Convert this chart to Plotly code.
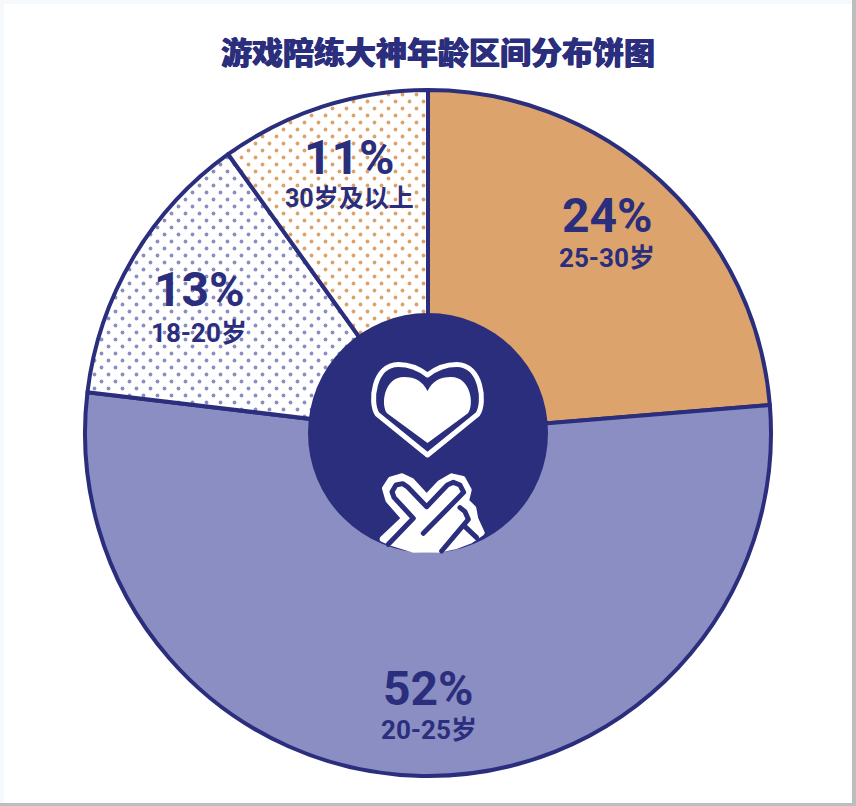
import plotly.graph_objects as go

W, H = 856, 806
NAVY = "#2A2E7C"
ORANGE = "#DDA36C"
PERI = "#8B8EC3"

TITLE = "游戏陪练大神年龄区间分布饼图"
categories = ["25-30岁", "20-25岁", "18-20岁", "30岁及以上"]
printed_pct = ["24%", "52%", "13%", "11%"]
# Arc shares as drawn in the picture (the printed percentages are rounder)
drawn_share = [23.7, 53.2, 13.2, 9.9]

slice_fill = [ORANGE, PERI, "white", "white"]
slice_dots = [ORANGE, PERI, PERI, ORANGE]
pattern_shape = ["", "", ".", "."]

CX, CY, R = 428, 433, 343
CJK = "Noto Sans CJK SC"


def px(x, y):
    return x / W, 1 - y / H


def path(points, close=True):
    out = []
    for i, (cmd, *c) in enumerate(points):
        coords = []
        for j in range(0, len(c), 2):
            a, b = px(c[j], c[j + 1])
            coords.append(f"{a:.5f},{b:.5f}")
        out.append(cmd + " ".join(coords))
    return " ".join(out) + (" Z" if close else "")


def rect(x0, y0, x1, y1, color, layer="below"):
    a0, b0 = px(x0, y0)
    a1, b1 = px(x1, y1)
    return dict(type="rect", xref="paper", yref="paper", x0=a0, y0=b1, x1=a1, y1=b0,
                fillcolor=color, line_width=0, layer=layer)


def z(zx, zy):
    return 370 + zx / 3, 465 + zy / 3


def zpoly(pts, close=True):
    cmds = []
    for i, (a, b) in enumerate(pts):
        x, y = z(a, b)
        cmds.append(("M" if i == 0 else "L", x, y))
    return path(cmds, close)


def heart(xl, xr, ytop, ynotch, ybot):
    xm = (xl + xr) / 2
    w = xr - xl
    h = ybot - ytop
    X = lambda t: xl + w * t
    Xr = lambda t: xr - w * t
    Y = lambda t: ytop + h * t
    return path([
        ("M", xm, ybot),
        ("L", X(0.035), Y(0.55)),
        ("C", X(-0.04), Y(0.42), X(0.0), Y(0.0), X(0.23), Y(0.0)),
        ("C", X(0.36), Y(0.0), X(0.44), Y(0.06), xm, ynotch),
        ("C", Xr(0.44), Y(0.06), Xr(0.36), Y(0.0), Xr(0.23), Y(0.0)),
        ("C", Xr(0.0), Y(0.0), Xr(-0.04), Y(0.42), Xr(0.035), Y(0.55)),
    ])


shapes = [
    rect(4, 4, 852, 803, "white"),
    rect(852, 0, 856, 806, "#BDBDBD"),
    rect(0, 803, 856, 806, "#BDBDBD"),
]
a0, b0 = px(CX - 120, CY - 120)
a1, b1 = px(CX + 120, CY + 120)
shapes.append(dict(type="circle", xref="paper", yref="paper", x0=a0, y0=b1, x1=a1, y1=b0,
                   fillcolor=NAVY, line_width=0))
shapes.append(dict(type="path", xref="paper", yref="paper",
                   path=heart(373.5, 481.5, 364.5, 375, 455), fillcolor="rgba(0,0,0,0)",
                   line=dict(color="white", width=5)))
shapes.append(dict(type="path", xref="paper", yref="paper",
                   path=heart(384, 471, 377, 391, 443), fillcolor="white", line_width=0))
# hand silhouette (white, thick round stroke softens the corners) and its navy finger lines
shapes.append(dict(type="path", xref="paper", yref="paper",
                   path=zpoly([(38, 222), (103, 160), (55, 105), (45, 70), (62, 44), (95, 34), (125, 48),
                               (170, 97), (210, 54), (245, 34), (278, 42), (296, 75), (288, 108), (310, 130),
                               (316, 162), (335, 203), (300, 227), (255, 244), (210, 254), (130, 254), (65, 234)]),
                   fillcolor="white", line=dict(color="white", width=6)))
for pts in [
    [(55, 238), (130, 160), (72, 97), (66, 80), (78, 60), (98, 56), (113, 66), (170, 125), (232, 60), (250, 52),
     (270, 60), (281, 82), (160, 205)],
    [(215, 258), (295, 163), (285, 140), (270, 128)],
    [(285, 185), (320, 218)],
]:
    shapes.append(dict(type="path", xref="paper", yref="paper", path=zpoly(pts, close=False),
                       fillcolor="rgba(0,0,0,0)", line=dict(color=NAVY, width=5)))

fig = go.Figure(go.Pie(
    values=drawn_share,
    labels=categories,
    sort=False,
    direction="clockwise",
    rotation=0,
    textinfo="none",
    hoverinfo="label+text",
    hovertext=printed_pct,
    domain=dict(x=[(CX - R) / W, (CX + R) / W], y=[1 - (CY + R) / H, 1 - (CY - R) / H]),
    marker=dict(
        colors=slice_fill,
        line=dict(color=NAVY, width=4),
        pattern=dict(shape=pattern_shape, fgcolor=slice_dots, bgcolor=slice_fill,
                     size=14, solidity=0.06, fillmode="replace"),
    ),
))

label_pos = [(607, 216, 258), (429, 688, 730), (199, 290, 333), (349, 158, 198)]
sub_size = [26, 26, 26, 25]
annotations = []
for cat, pct, (x, y1, y2), fs in zip(categories, printed_pct, label_pos, sub_size):
    ax, ay = px(x, y1)
    annotations.append(dict(text=pct, x=ax, y=ay, xref="paper", yref="paper", showarrow=False,
                            xanchor="center", yanchor="middle",
                            font=dict(family="Roboto, " + CJK, size=48, color=NAVY, weight=700)))
    ax, ay = px(x, y2)
    annotations.append(dict(text=cat, x=ax, y=ay, xref="paper", yref="paper", showarrow=False,
                            xanchor="center", yanchor="middle",
                            font=dict(family="Roboto, " + CJK, size=fs, color=NAVY, weight=700)))
ax, ay = px(438, 51)
annotations.append(dict(text=TITLE, x=ax, y=ay, xref="paper", yref="paper", showarrow=False,
                        xanchor="center", yanchor="middle",
                        font=dict(family=CJK, size=31, color=NAVY, weight=900,
                                  shadow=f"0.6px 0 0 {NAVY}, -0.6px 0 0 {NAVY}")))

fig.update_layout(
    width=W, height=H, autosize=False,
    margin=dict(l=0, r=0, t=0, b=0),
    paper_bgcolor="#F5F9FC",
    showlegend=False,
    shapes=shapes,
    annotations=annotations,
)

# Full-bleed page, round joins on the icon strokes, and a staggered dot screen.
POST = """
document.body.style.margin = '0';
document.documentElement.style.overflow = 'hidden';
var gd = document.getElementById('{plot_id}');
function finish() {
  gd.querySelectorAll('.shapelayer path').forEach(function (p) {
    p.style.strokeLinejoin = 'round';
    p.style.strokeLinecap = 'round';
  });
  document.querySelectorAll('pattern').forEach(function (pt) {
    if (pt.dataset.stag) return;
    var c = pt.querySelector('circle');
    if (!c) return;
    pt.dataset.stag = '1';
    c.setAttribute('cx', '3.5');
    c.setAttribute('cy', '3.5');
    var d = c.cloneNode(true);
    d.setAttribute('cx', '10.5');
    d.setAttribute('cy', '10.5');
    c.parentNode.appendChild(d);
  });
}
finish();
gd.on('plotly_afterplot', finish);
"""
fig.write_html("out.html", post_script=POST, config=dict(displayModeBar=False))
